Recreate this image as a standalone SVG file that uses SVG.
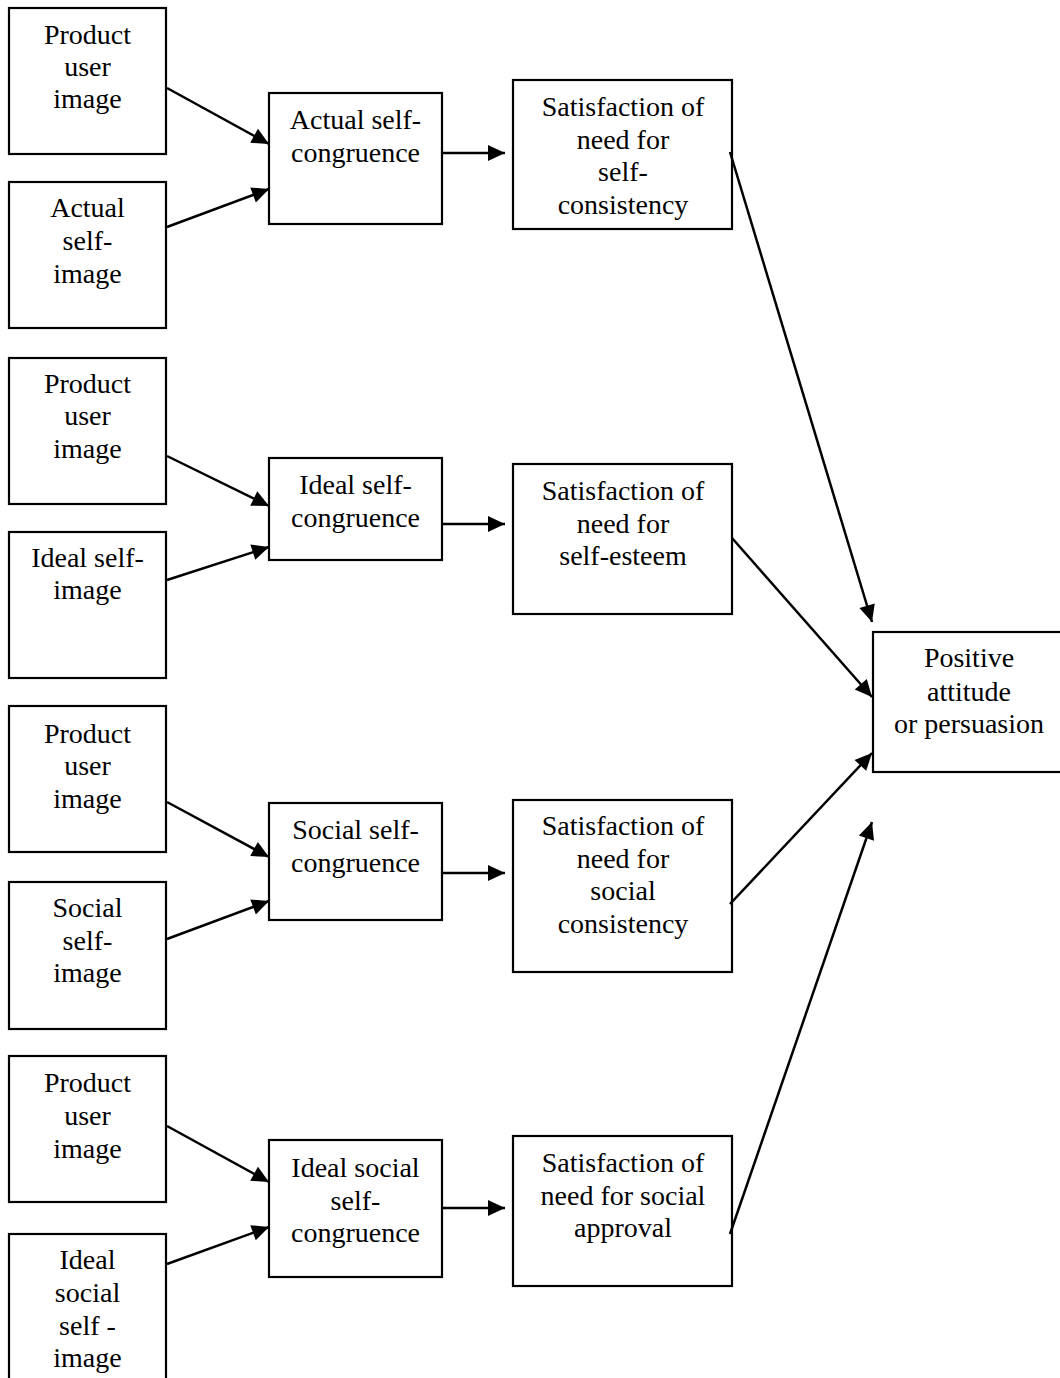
<svg xmlns="http://www.w3.org/2000/svg" width="1060" height="1378" viewBox="0 0 1060 1378">
  <style>
    .box { fill: #ffffff; stroke: #000000; stroke-width: 2.2; }
    .lbl { font-family: "Liberation Serif", "Times New Roman", serif; font-size: 28px; fill: #000000; text-anchor: middle; }
    .edge { stroke: #000000; stroke-width: 2.5; fill: none; marker-end: url(#head); }
  </style>
  <defs>
    <marker id="head" markerUnits="userSpaceOnUse" markerWidth="20" markerHeight="18" refX="17" refY="8" orient="auto" overflow="visible">
      <path d="M0,0 L17,8 L0,16 Z" fill="#000000"/>
    </marker>
  </defs>
  <rect width="1060" height="1378" fill="#ffffff"/>

  <!-- Row 1: actual self-congruence -->
  <g id="product-user-image-1">
    <rect class="box" x="9" y="8" width="157" height="146"/>
    <text class="lbl" x="87.5" y="44">Product</text>
    <text class="lbl" x="87.5" y="76">user</text>
    <text class="lbl" x="87.5" y="108">image</text>
  </g>
  <g id="actual-self-image">
    <rect class="box" x="9" y="182" width="157" height="146"/>
    <text class="lbl" x="87.5" y="217">Actual</text>
    <text class="lbl" x="87.5" y="250">self-</text>
    <text class="lbl" x="87.5" y="283">image</text>
  </g>
  <g id="actual-self-congruence">
    <rect class="box" x="269" y="93" width="173" height="131"/>
    <text class="lbl" x="355.5" y="129">Actual self-</text>
    <text class="lbl" x="355.5" y="162">congruence</text>
  </g>
  <g id="need-self-consistency">
    <rect class="box" x="513" y="80" width="219" height="149"/>
    <text class="lbl" x="623" y="116">Satisfaction of</text>
    <text class="lbl" x="623" y="148.5">need for</text>
    <text class="lbl" x="623" y="181">self-</text>
    <text class="lbl" x="623" y="213.5">consistency</text>
  </g>

  <!-- Row 2: ideal self-congruence -->
  <g id="product-user-image-2">
    <rect class="box" x="9" y="358" width="157" height="146"/>
    <text class="lbl" x="87.5" y="393">Product</text>
    <text class="lbl" x="87.5" y="425">user</text>
    <text class="lbl" x="87.5" y="458">image</text>
  </g>
  <g id="ideal-self-image">
    <rect class="box" x="9" y="532" width="157" height="146"/>
    <text class="lbl" x="87.5" y="567">Ideal self-</text>
    <text class="lbl" x="87.5" y="599">image</text>
  </g>
  <g id="ideal-self-congruence">
    <rect class="box" x="269" y="458" width="173" height="102"/>
    <text class="lbl" x="355.5" y="494">Ideal self-</text>
    <text class="lbl" x="355.5" y="527">congruence</text>
  </g>
  <g id="need-self-esteem">
    <rect class="box" x="513" y="464" width="219" height="150"/>
    <text class="lbl" x="623" y="500">Satisfaction of</text>
    <text class="lbl" x="623" y="532.5">need for</text>
    <text class="lbl" x="623" y="565">self-esteem</text>
  </g>

  <!-- Row 3: social self-congruence -->
  <g id="product-user-image-3">
    <rect class="box" x="9" y="706" width="157" height="146"/>
    <text class="lbl" x="87.5" y="743">Product</text>
    <text class="lbl" x="87.5" y="775">user</text>
    <text class="lbl" x="87.5" y="808">image</text>
  </g>
  <g id="social-self-image">
    <rect class="box" x="9" y="882" width="157" height="147"/>
    <text class="lbl" x="87.5" y="917">Social</text>
    <text class="lbl" x="87.5" y="950">self-</text>
    <text class="lbl" x="87.5" y="982">image</text>
  </g>
  <g id="social-self-congruence">
    <rect class="box" x="269" y="803" width="173" height="117"/>
    <text class="lbl" x="355.5" y="839">Social self-</text>
    <text class="lbl" x="355.5" y="872">congruence</text>
  </g>
  <g id="need-social-consistency">
    <rect class="box" x="513" y="800" width="219" height="172"/>
    <text class="lbl" x="623" y="835">Satisfaction of</text>
    <text class="lbl" x="623" y="867.5">need for</text>
    <text class="lbl" x="623" y="900">social</text>
    <text class="lbl" x="623" y="932.5">consistency</text>
  </g>

  <!-- Row 4: ideal social self-congruence -->
  <g id="product-user-image-4">
    <rect class="box" x="9" y="1056" width="157" height="146"/>
    <text class="lbl" x="87.5" y="1092">Product</text>
    <text class="lbl" x="87.5" y="1125">user</text>
    <text class="lbl" x="87.5" y="1158">image</text>
  </g>
  <g id="ideal-social-self-image">
    <rect class="box" x="9" y="1234" width="157" height="160"/>
    <text class="lbl" x="87.5" y="1269">Ideal</text>
    <text class="lbl" x="87.5" y="1302">social</text>
    <text class="lbl" x="87.5" y="1335">self -</text>
    <text class="lbl" x="87.5" y="1367">image</text>
  </g>
  <g id="ideal-social-self-congruence">
    <rect class="box" x="269" y="1140" width="173" height="137"/>
    <text class="lbl" x="355.5" y="1177">Ideal social</text>
    <text class="lbl" x="355.5" y="1210">self-</text>
    <text class="lbl" x="355.5" y="1242">congruence</text>
  </g>
  <g id="need-social-approval">
    <rect class="box" x="513" y="1136" width="219" height="150"/>
    <text class="lbl" x="623" y="1172">Satisfaction of</text>
    <text class="lbl" x="623" y="1204.5">need for social</text>
    <text class="lbl" x="623" y="1237">approval</text>
  </g>

  <!-- Outcome -->
  <g id="positive-attitude">
    <rect class="box" x="873" y="632" width="190" height="140"/>
    <text class="lbl" x="969" y="667">Positive</text>
    <text class="lbl" x="969" y="701">attitude</text>
    <text class="lbl" x="969" y="733">or persuasion</text>
  </g>

  <!-- Connectors -->
  <g id="connectors">
    <line class="edge" x1="167" y1="88" x2="269" y2="144"/>
    <line class="edge" x1="167" y1="227" x2="269" y2="189"/>
    <line class="edge" x1="443" y1="153" x2="505" y2="153"/>

    <line class="edge" x1="167" y1="456" x2="269" y2="506"/>
    <line class="edge" x1="167" y1="580" x2="269" y2="547"/>
    <line class="edge" x1="443" y1="524" x2="505" y2="524"/>

    <line class="edge" x1="167" y1="802" x2="269" y2="857"/>
    <line class="edge" x1="167" y1="939" x2="269" y2="901"/>
    <line class="edge" x1="443" y1="873" x2="505" y2="873"/>

    <line class="edge" x1="167" y1="1126" x2="269" y2="1182"/>
    <line class="edge" x1="167" y1="1264" x2="269" y2="1227"/>
    <line class="edge" x1="443" y1="1208" x2="505" y2="1208"/>

    <line class="edge" x1="730" y1="152" x2="872" y2="622"/>
    <line class="edge" x1="732" y1="538" x2="872" y2="697"/>
    <line class="edge" x1="730" y1="904" x2="872" y2="753"/>
    <line class="edge" x1="730" y1="1234" x2="872" y2="822"/>
  </g>
</svg>
